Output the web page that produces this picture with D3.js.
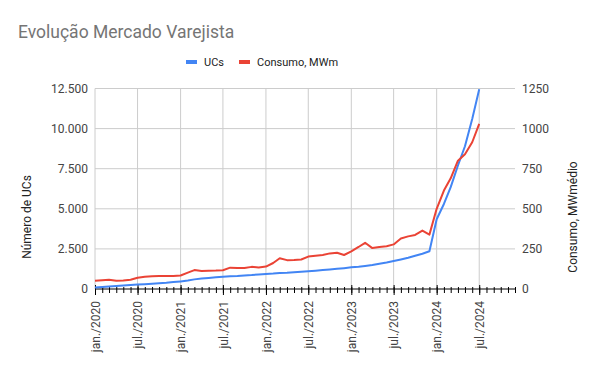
<!DOCTYPE html>
<meta charset="utf-8">
<script src="https://d3js.org/d3.v7.min.js"></script>
<body>
<svg width="600" height="371"></svg>
<style type="text/css">
body{
    margin: 0;
    font-family: Roboto, Arial, sans-serif;
}
.tick text{
    fill: #444;
    font-size: 12px;
    font-family: Roboto, Arial, sans-serif;
}
</style>
<script>
    // meses (categorias)
    const MONTHS = [
        '2020-01','2020-02','2020-03','2020-04','2020-05','2020-06','2020-07','2020-08','2020-09','2020-10','2020-11','2020-12',
        '2021-01','2021-02','2021-03','2021-04','2021-05','2021-06','2021-07','2021-08','2021-09','2021-10','2021-11','2021-12',
        '2022-01','2022-02','2022-03','2022-04','2022-05','2022-06','2022-07','2022-08','2022-09','2022-10','2022-11','2022-12',
        '2023-01','2023-02','2023-03','2023-04','2023-05','2023-06','2023-07','2023-08','2023-09','2023-10','2023-11','2023-12',
        '2024-01','2024-02','2024-03','2024-04','2024-05','2024-06','2024-07'
    ];
    const UCS = [
        100, 130, 160, 190, 215, 245, 275, 300, 330, 360, 390, 430,
        475, 530, 600, 650, 690, 730, 770, 790, 810, 840, 870, 910,
        940, 960, 990, 1010, 1040, 1070, 1100, 1140, 1180, 1220, 1260, 1300,
        1350, 1390, 1440, 1500, 1570, 1650, 1740, 1840, 1950, 2070, 2200, 2350,
        4350, 5300, 6350, 7700, 8900, 10600, 12450
    ];
    const CONSUMO = [
        52, 55, 58, 52, 53, 58, 70, 77, 80, 81, 81, 81,
        84, 102, 118, 112, 114, 115, 117, 133, 131, 131, 138, 134,
        140, 162, 192, 180, 181, 184, 202, 208, 212, 222, 226, 212,
        235, 262, 288, 255, 262, 266, 278, 315, 328, 337, 364, 339,
        500, 614, 690, 800, 840, 915, 1030
    ];
    const LEFT_TICKS = [0, 2500, 5000, 7500, 10000, 12500];
    const RIGHT_TICKS = [0, 250, 500, 750, 1000, 1250];
    const MES = ['jan.','fev.','mar.','abr.','mai.','jun.','jul.','ago.','set.','out.','nov.','dez.'];
    const SERIES = [
        {name: 'UCs', color: '#4285F4', values: UCS, axis: 'left'},
        {name: 'Consumo, MWm', color: '#EA4335', values: CONSUMO, axis: 'right'}
    ];

    var pLeft = 95, pRight = 515, pTop = 88.5, pBottom = 289;
    var parse = d3.timeParse('%Y-%m');
    var dates = MONTHS.map(parse);

    var x  = d3.scaleTime().domain([parse('2020-01'), parse('2024-12')]).range([pLeft, pRight]);
    var yL = d3.scaleLinear().domain([0, 12500]).range([pBottom, pTop]);
    var yR = d3.scaleLinear().domain([0, 1250]).range([pBottom, pTop]);

    var br = d3.formatLocale({decimal: ',', thousands: '.', grouping: [3], currency: ['R$', '']});
    var fmtL = br.format(',');

    var svg = d3.select('svg');
    svg.append('rect').attr('width', 600).attr('height', 371).attr('fill', '#fff');

    /* ----------- grade ----------- */
    svg.append('g').selectAll('line').data(LEFT_TICKS.slice(1))
        .enter().append('line')
        .attr('x1', pLeft).attr('x2', pRight)
        .attr('y1', d => yL(d)).attr('y2', d => yL(d))
        .attr('stroke', '#ccc').attr('stroke-width', 1);

    svg.append('g').selectAll('line').data(x.ticks(d3.timeMonth.every(6)))
        .enter().append('line')
        .attr('x1', d => x(d)).attr('x2', d => x(d))
        .attr('y1', pTop).attr('y2', pBottom)
        .attr('stroke', '#ccc').attr('stroke-width', 1);

    /* ----------- eixos ----------- */
    var axL = svg.append('g')
        .attr('transform', `translate(${pLeft},0)`)
        .call(d3.axisLeft(yL).tickValues(LEFT_TICKS).tickSize(0).tickPadding(7).tickFormat(fmtL));
    axL.select('.domain').remove();

    var axR = svg.append('g')
        .attr('transform', `translate(${pRight},0)`)
        .call(d3.axisRight(yR).tickValues(RIGHT_TICKS).tickSize(0).tickPadding(7).tickFormat(d3.format('d')));
    axR.select('.domain').remove();

    // ticks mensais
    var minor = svg.append('g')
        .attr('transform', `translate(0,${pBottom})`)
        .call(d3.axisBottom(x).ticks(d3.timeMonth.every(1)).tickSize(4).tickFormat(''));
    minor.select('.domain').remove();
    minor.selectAll('line').attr('y1', -2).attr('stroke', '#000');

    var major = svg.append('g')
        .attr('transform', `translate(0,${pBottom})`)
        .call(d3.axisBottom(x).ticks(d3.timeMonth.every(6)).tickSize(6)
            .tickFormat(d => MES[d.getMonth()] + '/' + d.getFullYear()));
    major.select('.domain').attr('d', `M${pLeft},0H${pRight}`).attr('stroke', '#000');
    major.selectAll('line').attr('y1', -4).attr('stroke', '#000');
    major.selectAll('text')
        .attr('x', -12).attr('y', 0).attr('dy', '0.35em')
        .attr('transform', 'rotate(-90)')
        .style('text-anchor', 'end');

    /* ----------- linhas ----------- */
    SERIES.forEach(s => {
        var yy = s.axis === 'left' ? yL : yR;
        var line = d3.line().x((d, i) => x(dates[i])).y(d => yy(d));
        svg.append('path')
            .datum(s.values)
            .attr('fill', 'none')
            .attr('stroke', s.color)
            .attr('stroke-width', 2)
            .attr('stroke-linejoin', 'round')
            .attr('d', line);
    });

    /* ----------- textos ----------- */
    svg.append('text')
        .attr('x', 18).attr('y', 38)
        .attr('fill', '#757575')
        .style('font-size', '17.5px')
        .text('Evolução Mercado Varejista');

    var lx = [186, 239];
    var leg = svg.append('g').selectAll('g').data(SERIES).enter().append('g')
        .attr('transform', (d, i) => `translate(${lx[i]},62)`);
    leg.append('rect').attr('x', 0).attr('y', -2).attr('width', 11).attr('height', 4).attr('fill', d => d.color);
    leg.append('text').attr('x', 18).attr('dy', '0.35em')
        .attr('fill', '#222').style('font-size', '11px')
        .text(d => d.name);

    svg.append('text')
        .attr('transform', 'translate(27,217) rotate(-90)')
        .attr('dy', '0.35em')
        .style('text-anchor', 'middle').style('font-size', '12px')
        .attr('fill', '#222')
        .text('Número de UCs');

    svg.append('text')
        .attr('transform', 'translate(573,217) rotate(-90)')
        .attr('dy', '0.35em')
        .style('text-anchor', 'middle').style('font-size', '12px')
        .attr('fill', '#222')
        .text('Consumo, MWmédio');
</script>
</body>
